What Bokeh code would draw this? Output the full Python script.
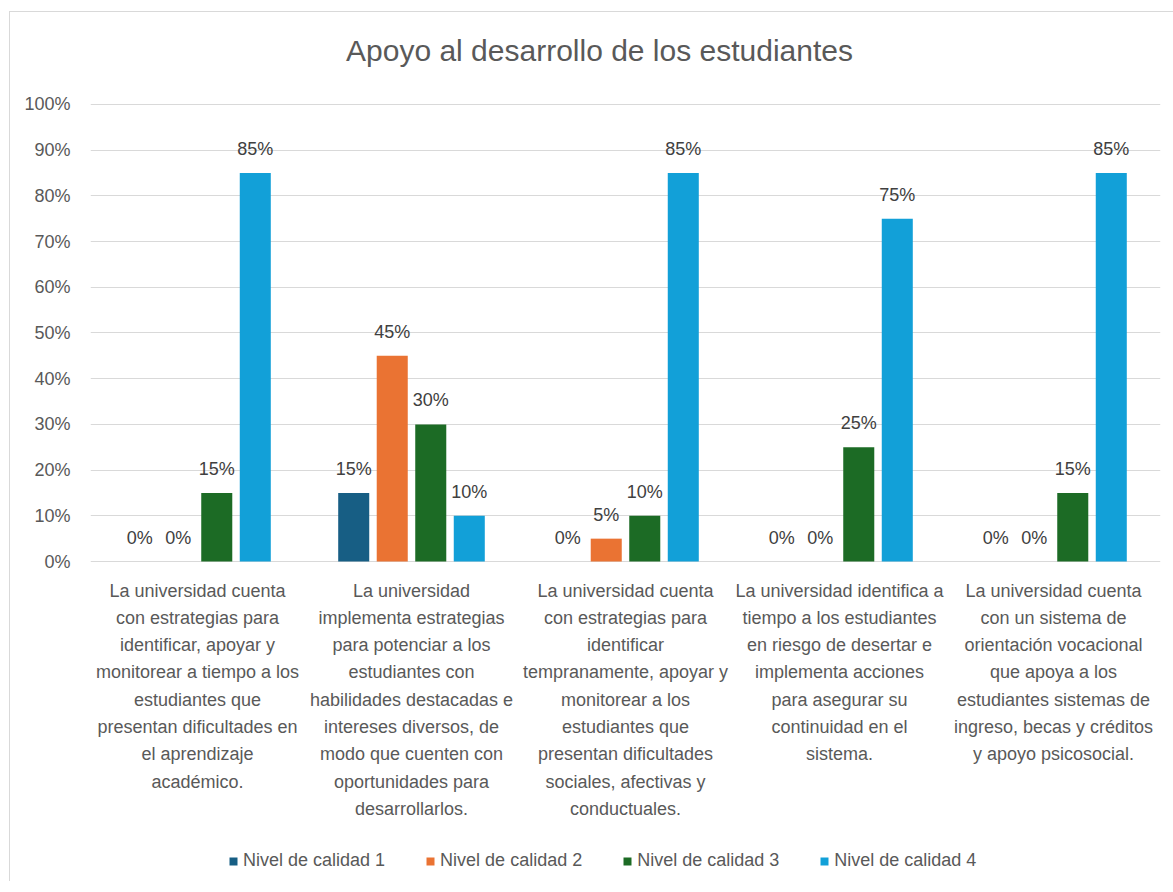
from bokeh.plotting import figure
from bokeh.models import (FactorRange, Range1d, FixedTicker, PrintfTickFormatter,
                          ColumnDataSource, Legend, LegendItem, Label)
from bokeh.transform import dodge
from bokeh.core.properties import value
from bokeh.embed import file_html
from bokeh.resources import INLINE

title_text = "Apoyo al desarrollo de los estudiantes"
categories = [
    "La universidad cuenta\ncon estrategias para\nidentificar, apoyar y\nmonitorear a tiempo a los\nestudiantes que\npresentan dificultades en\nel aprendizaje\nacadémico.",
    "La universidad\nimplementa estrategias\npara potenciar a los\nestudiantes con\nhabilidades destacadas e\nintereses diversos, de\nmodo que cuenten con\noportunidades para\ndesarrollarlos.",
    "La universidad cuenta\ncon estrategias para\nidentificar\ntempranamente, apoyar y\nmonitorear a los\nestudiantes que\npresentan dificultades\nsociales, afectivas y\nconductuales.",
    "La universidad identifica a\ntiempo a los estudiantes\nen riesgo de desertar e\nimplementa acciones\npara asegurar su\ncontinuidad en el\nsistema.",
    "La universidad cuenta\ncon un sistema de\norientación vocacional\nque apoya a los\nestudiantes sistemas de\ningreso, becas y créditos\ny apoyo psicosocial.",
]
series_names = ["Nivel de calidad 1", "Nivel de calidad 2", "Nivel de calidad 3", "Nivel de calidad 4"]
nivel1 = [0, 15, 0, 0, 0]
nivel2 = [0, 45, 5, 0, 0]
nivel3 = [15, 30, 10, 25, 15]
nivel4 = [85, 10, 85, 75, 85]
y_ticks = [0, 10, 20, 30, 40, 50, 60, 70, 80, 90, 100]

colors = ["#175E84", "#EA7333", "#1C6B25", "#12A0D8"]
FONT = "Liberation Sans"
GRAY = "#595959"

src = ColumnDataSource(dict(
    cat=categories,
    base=[0] * len(categories),
    n1=nivel1, n2=nivel2, n3=nivel3, n4=nivel4,
    l1=[f"{v}%" for v in nivel1], l2=[f"{v}%" for v in nivel2],
    l3=[f"{v}%" for v in nivel3], l4=[f"{v}%" for v in nivel4],
))

# frame spans the whole card height; 0..100 % sits at the same place as before
p = figure(x_range=FactorRange(*categories, range_padding=0), y_range=Range1d(-70.02, 120.13),
           frame_width=1070, frame_height=869, x_axis_location=None,
           min_border_left=80, min_border_right=13, min_border_top=0, min_border_bottom=0,
           output_backend="svg", toolbar_location=None)
p.margin = (11, 0, 0, 9)
p.styles = {"border-left": "1px solid #d9d9d9", "border-top": "1px solid #d9d9d9"}
p.outline_line_color = None

title = Label(x=509, y=831, x_units="screen", y_units="screen", text=title_text,
              text_align="center", text_baseline="middle", text_font=FONT,
              text_font_size="30px", text_color=GRAY)
p.add_layout(title)

offsets = [-0.27, -0.09, 0.09, 0.27]
keys = ["n1", "n2", "n3", "n4"]
lkeys = ["l1", "l2", "l3", "l4"]
renderers = []
for k, lk, off, c in zip(keys, lkeys, offsets, colors):
    r = p.vbar(x=dodge("cat", off, range=p.x_range), top=k, bottom=0, width=0.145, source=src,
               fill_color=c, line_color=None)
    renderers.append(r)
    p.text(x=dodge("cat", off, range=p.x_range), y=k, text=lk, source=src,
           text_align="center", text_baseline="alphabetic", y_offset=-24,
           text_font=value(FONT), text_font_size="18px", text_color="#404040")

# category labels under the baseline
p.text(x="cat", y="base", text="cat", source=src, text_align="center", text_baseline="top",
       y_offset=19, text_font=value(FONT), text_font_size="18px", text_color=GRAY,
       text_line_height=1.365)

p.yaxis.ticker = FixedTicker(ticks=y_ticks)
p.yaxis.formatter = PrintfTickFormatter(format="%d%%")
p.yaxis.axis_line_color = None
p.yaxis.major_tick_line_color = None
p.yaxis.minor_tick_line_color = None
p.yaxis.major_label_standoff = 14
p.yaxis.major_label_text_font = FONT
p.yaxis.major_label_text_font_size = "18px"
p.yaxis.major_label_text_color = GRAY

p.xgrid.visible = False
p.ygrid.grid_line_color = "#d9d9d9"
p.ygrid.grid_line_width = 1

legend = Legend(items=[LegendItem(label=n, renderers=[r]) for n, r in zip(series_names, renderers)],
                orientation="horizontal", location=(138, 10))
legend.border_line_color = None
legend.background_fill_alpha = 0
legend.label_text_font = FONT
legend.label_text_font_size = "18px"
legend.label_text_color = GRAY
legend.glyph_width = 10
legend.glyph_height = 10
legend.label_standoff = 5
legend.spacing = 40
legend.padding = 0
legend.margin = 0
p.add_layout(legend, "center")

open("out.html", "w").write(file_html(p, INLINE))
